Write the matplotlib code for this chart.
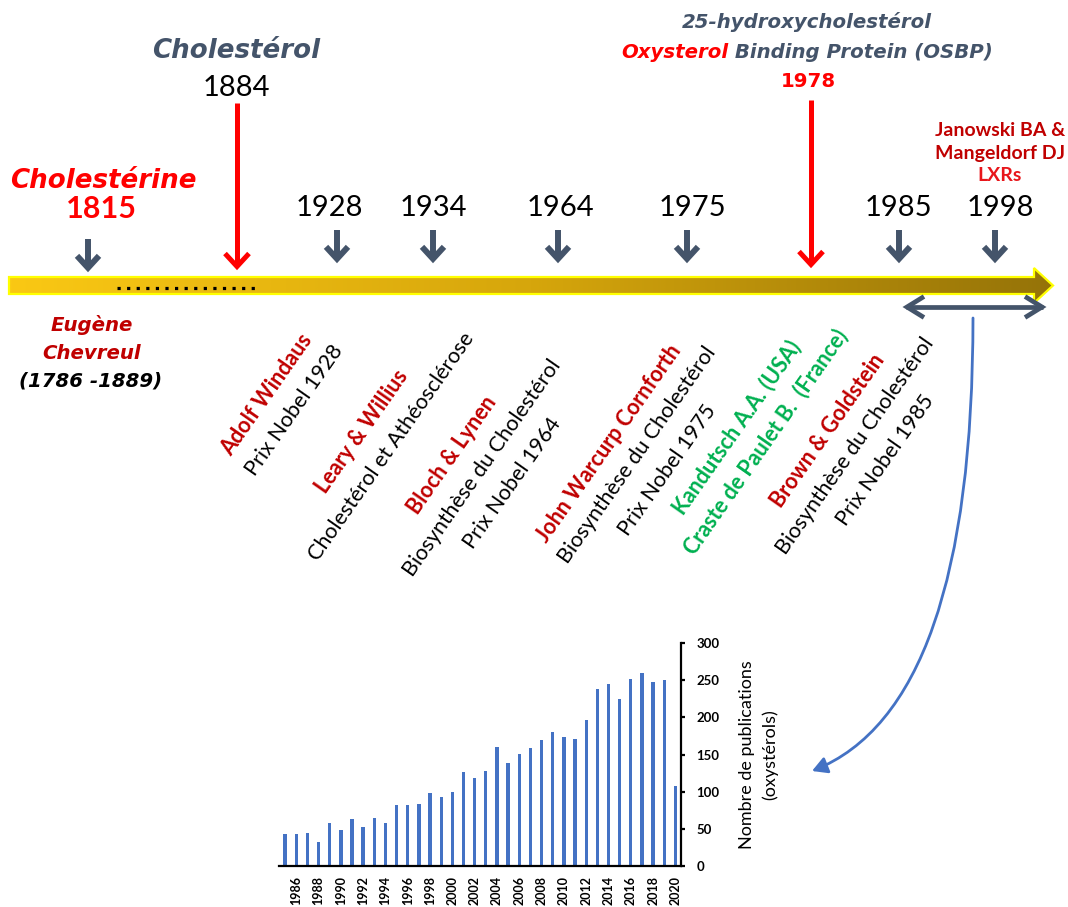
import numpy as np
import matplotlib
matplotlib.use('Agg')
import matplotlib.pyplot as plt
from matplotlib.path import Path
from matplotlib.patches import Polygon, FancyArrowPatch
from matplotlib.colors import LinearSegmentedColormap

# ---------------- data ----------------
pub_years = list(range(1985, 2021))
pub_counts = [43, 43, 44, 32, 58, 48, 63, 52, 65, 58,
              82, 82, 84, 98, 93, 99, 127, 118, 128, 160,
              139, 151, 159, 169, 180, 173, 171, 196, 238, 245,
              224, 252, 260, 248, 250, 108]
tick_years = list(range(1986, 2021, 2))
y_ticks = [0, 50, 100, 150, 200, 250, 300]

event_years = ['1928', '1934', '1964', '1975', '1985', '1998']
first_year = '1815'
key_years = ['1884', '1978']

# ---------------- layout / style ----------------
W, H = 1068, 907
SLATE = '#44546A'
DRED = '#C00000'
RED = '#FF0000'
GREEN = '#00B050'
BLUE = '#4472C4'
FONT = 'Lato'
VFONT = 'DejaVu Sans'

fig = plt.figure(figsize=(W / 100, H / 100), dpi=100)
ax0 = fig.add_axes([0, 0, 1, 1])
ax0.axis('off')


def txt(x, y, s, size, color='black', weight='normal', style='normal',
        ha='center', va='baseline', rot=0, family=FONT, **kw):
    return ax0.text(x, y, s, fontsize=size, color=color, fontweight=weight,
                    fontstyle=style, ha=ha, va=va, rotation=rot,
                    rotation_mode='anchor', family=family, zorder=6, **kw)


# ---- timeline body (gradient arrow) ----
poly = [(9, 277), (1034, 277), (1034, 268), (1053, 285.5), (1034, 303),
        (1034, 294), (9, 294)]
grad = LinearSegmentedColormap.from_list(
    'g', [(0, '#FAC814'), (0.5, '#D6A60C'), (1, '#957308')])
img = ax0.imshow(np.linspace(0, 1, 512)[None, :], cmap=grad,
                 extent=(9, 1053, 303, 268), aspect='auto', zorder=2,
                 interpolation='bilinear')
outline = Polygon(poly, closed=True, facecolor='none', edgecolor='#FFFF00',
                  lw=1.6, zorder=3)
ax0.add_patch(outline)
img.set_clip_path(outline)

# dotted segment on the timeline
ax0.plot([117, 258], [288, 288], color='black', lw=2.3, ls=(0, (1, 2)),
         dash_capstyle='butt', zorder=4)


def down_arrow(x, y0, tip, color, lw, hw, hl):
    ext = 0.7 * lw * 100 / 72
    ax0.plot([x, x], [y0, tip - ext - 2], color=color, lw=lw,
             solid_capstyle='butt', zorder=4)
    ax0.plot([x - hw, x, x + hw], [tip - ext - hl, tip - ext, tip - ext - hl],
             color=color, lw=lw, solid_joinstyle='miter',
             solid_capstyle='butt', zorder=4)


# slate arrows
down_arrow(88, 239, 272, SLATE, 4.3, 11, 12)
event_x = [337, 433, 558, 687, 899, 995]
label_x = [329, 433, 560, 692, 898, 1000]
for xa, xl, yr in zip(event_x, label_x, event_years):
    down_arrow(xa, 230, 263, SLATE, 4.3, 11, 12)
    txt(xl, 216.5, yr, 21)

# red arrows
down_arrow(237, 103, 270, RED, 3.6, 12, 13)
down_arrow(811, 100, 268, RED, 3.6, 12, 13)

# ---- top texts ----
txt(236, 58.5, 'Cholestérol', 18.8, SLATE, 'bold', 'italic', family=VFONT)
txt(236, 96, key_years[0], 21)
txt(103, 187.5, 'Cholestérine', 18.8, RED, 'bold', 'italic', family=VFONT)
txt(101, 218.3, first_year, 22, RED, 'bold')

txt(807, 28.5, '25-hydroxycholestérol', 14.2, SLATE, 'bold', 'italic', family=VFONT)
fig.canvas.draw()
rend = fig.canvas.get_renderer()
full = txt(0, 0, 'Oxysterol Binding Protein (OSBP)', 14.2, 'none', 'bold',
           'italic', ha='left', family=VFONT)
wfull = full.get_window_extent(rend).width
full.remove()
x0 = 807 - wfull / 2
txt(x0, 57.5, 'Oxysterol', 14.2, RED, 'bold', 'italic', ha='left', family=VFONT)
txt(x0 + wfull, 57.5, ' Binding Protein (OSBP)', 14.2, SLATE, 'bold', 'italic',
    ha='right', family=VFONT)
txt(808, 87, key_years[1], 14.2, RED, 'bold', family=VFONT)

txt(1000, 135.5, 'Janowski BA &', 14, DRED, 'bold')
txt(1000, 159, 'Mangeldorf DJ', 14, DRED, 'bold')
txt(1000, 181, 'LXRs', 14, '#E8161B', 'bold')

txt(92, 331, 'Eugène', 14.2, DRED, 'bold', 'italic', family=VFONT)
txt(92, 359, 'Chevreul', 14.2, DRED, 'bold', 'italic', family=VFONT)
txt(91, 386.5, '(1786 -1889)', 14.2, 'black', 'bold', 'italic', family=VFONT)

# ---- rotated blocks ----
ROT = 55
blocks = [
    (267, 395, 'Adolf Windaus', DRED, 'bold'),
    (294, 410, 'Prix Nobel 1928', 'black', 'normal'),
    (362, 432, 'Leary & Willius', DRED, 'bold'),
    (391, 447, 'Cholestérol et Athéosclérose', 'black', 'normal'),
    (452, 455, 'Bloch & Lynen', DRED, 'bold'),
    (482, 468, 'Biosynthèse du Cholestérol', 'black', 'normal'),
    (512, 483, 'Prix Nobel 1964', 'black', 'normal'),
    (609, 443, 'John Warcurp Cornforth', DRED, 'bold'),
    (637, 455, 'Biosynthèse du Cholestérol', 'black', 'normal'),
    (667, 470, 'Prix Nobel 1975', 'black', 'normal'),
    (737, 427, 'Kandutsch A.A. (USA)', GREEN, 'bold'),
    (766, 442, 'Craste de Paulet B.  (France)', GREEN, 'bold'),
    (828, 431, 'Brown & Goldstein', DRED, 'bold'),
    (855, 446, 'Biosynthèse du Cholestérol', 'black', 'normal'),
    (885, 460, 'Prix Nobel 1985', 'black', 'normal'),
]
for bx, by, s, c, w in blocks:
    txt(bx, by, s, 15.5, c, w, va='center', rot=ROT)

# ---- double arrow under timeline ----
ax0.plot([906, 1043], [307, 307], color=SLATE, lw=3.4, solid_capstyle='butt', zorder=4)
ax0.plot([924, 907, 924], [296.5, 307, 317.5], color=SLATE, lw=3.4,
         solid_joinstyle='miter', solid_capstyle='butt', zorder=4)
ax0.plot([1025, 1042, 1025], [296.5, 307, 317.5], color=SLATE, lw=3.4,
         solid_joinstyle='miter', solid_capstyle='butt', zorder=4)

# ---- blue curved arrow ----
cpath = Path([(973, 318), (973, 707), (812, 771)],
             [Path.MOVETO, Path.CURVE3, Path.CURVE3])
ax0.add_patch(FancyArrowPatch(path=cpath,
                              arrowstyle='-|>,head_length=0.45,head_width=0.25',
                              mutation_scale=20, color=BLUE, lw=2, zorder=5))

ax0.set_xlim(0, W)
ax0.set_ylim(H, 0)

# ---------------- bar chart ----------------
ax = fig.add_axes([279.5 / W, 41 / H, 401.5 / W, 223 / H])
ax.bar(pub_years, pub_counts, width=0.3, color=BLUE, zorder=2)
ax.set_xlim(1984.5, 2020.5)
ax.set_ylim(0, 300)
ax.set_yticks(y_ticks)
ax.set_xticks(tick_years)
ax.set_xticklabels([str(t) for t in tick_years], rotation=90,
                   fontsize=9, fontweight='bold', family=FONT)
ax.set_yticklabels([str(t) for t in y_ticks], fontsize=9.5,
                   fontweight='bold', family=FONT)
ax.yaxis.tick_right()
for side in ['left', 'top']:
    ax.spines[side].set_visible(False)
for side in ['right', 'bottom']:
    ax.spines[side].set_linewidth(1.6)
    ax.spines[side].set_color('black')
ax.tick_params(axis='y', direction='out', length=3, width=1.6, pad=8)
ax.tick_params(axis='x', length=0, pad=7)
ax.set_facecolor('none')
ax.set_ylabel('Nombre de publications\n(oxystérols)', fontsize=13,
              family=FONT, rotation=90, ha='center', va='center',
              linespacing=1.5)
ax.yaxis.set_label_position('right')
ax.yaxis.set_label_coords(1.145, 0.5)

fig.savefig('out.png', dpi=100)
